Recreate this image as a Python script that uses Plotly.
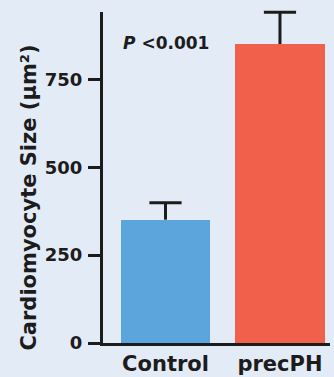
import plotly.graph_objects as go

categories = ["Control", "precPH"]
values = [351, 851]
errors = [48, 90]
colors = ["#5ba4dc", "#f0604a"]
y_ticks = [0, 250, 500, 750]

font_family = "DejaVu Sans, sans-serif"
ink = "#1c1c1c"
bg = "#e3ebf7"

fig = go.Figure()
fig.add_trace(go.Bar(
    x=categories, y=values,
    width=0.786,
    marker=dict(color=colors, line=dict(width=0)),
    hoverinfo="skip",
))

# error stems (upper only) built from the data arrays
err_x, err_y = [], []
for c, v, e in zip(categories, values, errors):
    err_x += [c, c, None]
    err_y += [v, v + e, None]
fig.add_trace(go.Scatter(
    x=err_x, y=err_y, mode="lines",
    line=dict(color=ink, width=3), cliponaxis=False, hoverinfo="skip",
))
fig.add_trace(go.Scatter(
    x=categories, y=[v + e for v, e in zip(values, errors)], mode="markers",
    marker=dict(symbol="line-ew", size=23, line=dict(color=ink, width=3)),
    cliponaxis=False, hoverinfo="skip",
))

fig.add_annotation(
    text="<b><i>P</i> &lt;0.001</b>", xref="paper", yref="paper",
    x=0.08, y=0.905, xanchor="left", yanchor="middle", showarrow=False,
    font=dict(family=font_family, size=17, color=ink),
)
fig.add_annotation(
    text="<b>Cardiomyocyte Size (μm²)</b>", xref="paper", yref="paper",
    x=-0.325, y=0.44, xanchor="center", yanchor="middle", showarrow=False,
    textangle=-90,
    font=dict(family=font_family, size=21, color=ink),
)

fig.update_layout(
    width=334, height=377,
    margin=dict(l=103, r=4, t=12, b=34),
    paper_bgcolor=bg, plot_bgcolor=bg,
    showlegend=False, bargap=0,
    font=dict(family=font_family, color=ink),
)
fig.update_xaxes(
    range=[-0.546, 1.437], showgrid=False, zeroline=False, automargin=False,
    showline=True, linecolor=ink, linewidth=3,
    ticks="", tickfont=dict(size=21, family=font_family, color=ink, weight="bold"),
    ticklabelstandoff=0,
)
fig.update_yaxes(
    range=[0, 942], tickvals=y_ticks, showgrid=False, zeroline=False, automargin=False,
    showline=True, linecolor=ink, linewidth=3,
    ticks="outside", ticklen=12, tickwidth=3, tickcolor=ink,
    tickfont=dict(size=18, family=font_family, color=ink, weight="bold"),
    ticklabelstandoff=2,
)

fig.write_html(
    "out.html",
    config={"displayModeBar": False},
    post_script="document.body.style.margin='0';document.body.style.background='%s';" % bg,
)
